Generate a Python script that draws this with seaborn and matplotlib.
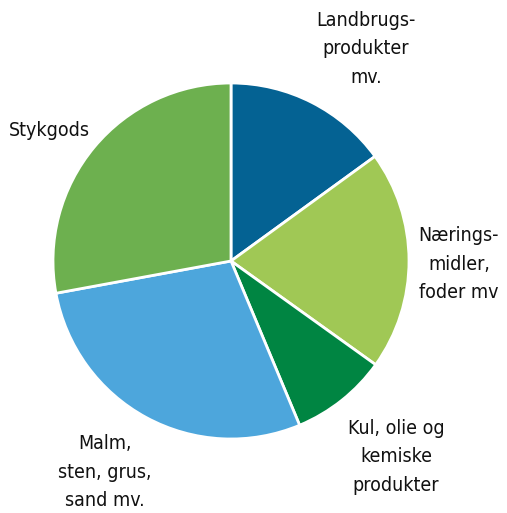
import matplotlib
matplotlib.use("Agg")
import matplotlib.pyplot as plt
import seaborn as sns

categories = ["Landbrugs-\nprodukter\nmv.", "Nærings-\nmidler,\nfoder mv",
              "Kul, olie og\nkemiske\nprodukter", "Malm,\nsten, grus,\nsand mv.", "Stykgods"]
values = [15.0, 19.9, 8.8, 28.4, 27.9]
colors = ["#046293", "#A0C855", "#008542", "#4DA6DC", "#6DB04F"]

sns.set_theme(style="white")
plt.rcParams['font.family'] = ['DejaVu Sans']

fig = plt.figure(figsize=(5.07, 5.13), dpi=100)
W, H = 507, 513
cx, cy, r = 231, 261, 178
ax = fig.add_axes([(cx - r) / W, (H - cy - r) / H, 2 * r / W, 2 * r / H])
wedges, _ = ax.pie(values, colors=sns.color_palette(colors), startangle=90, counterclock=False,
                   radius=1, wedgeprops=dict(edgecolor="white", linewidth=2))
ax.set_xlim(-1, 1)
ax.set_ylim(-1, 1)
ax.set_aspect("equal")
ax.axis("off")

label_px = [(366, 49), (459, 264), (396, 457), (105, 472), (49, 130)]
for lab, (px, py) in zip(categories, label_px):
    fig.text(px / W, (H - py) / H, lab, ha="center", va="center", fontsize=14,
             fontstretch="condensed", linespacing=1.65, color="#111111")

fig.savefig("out.png", dpi=100)
